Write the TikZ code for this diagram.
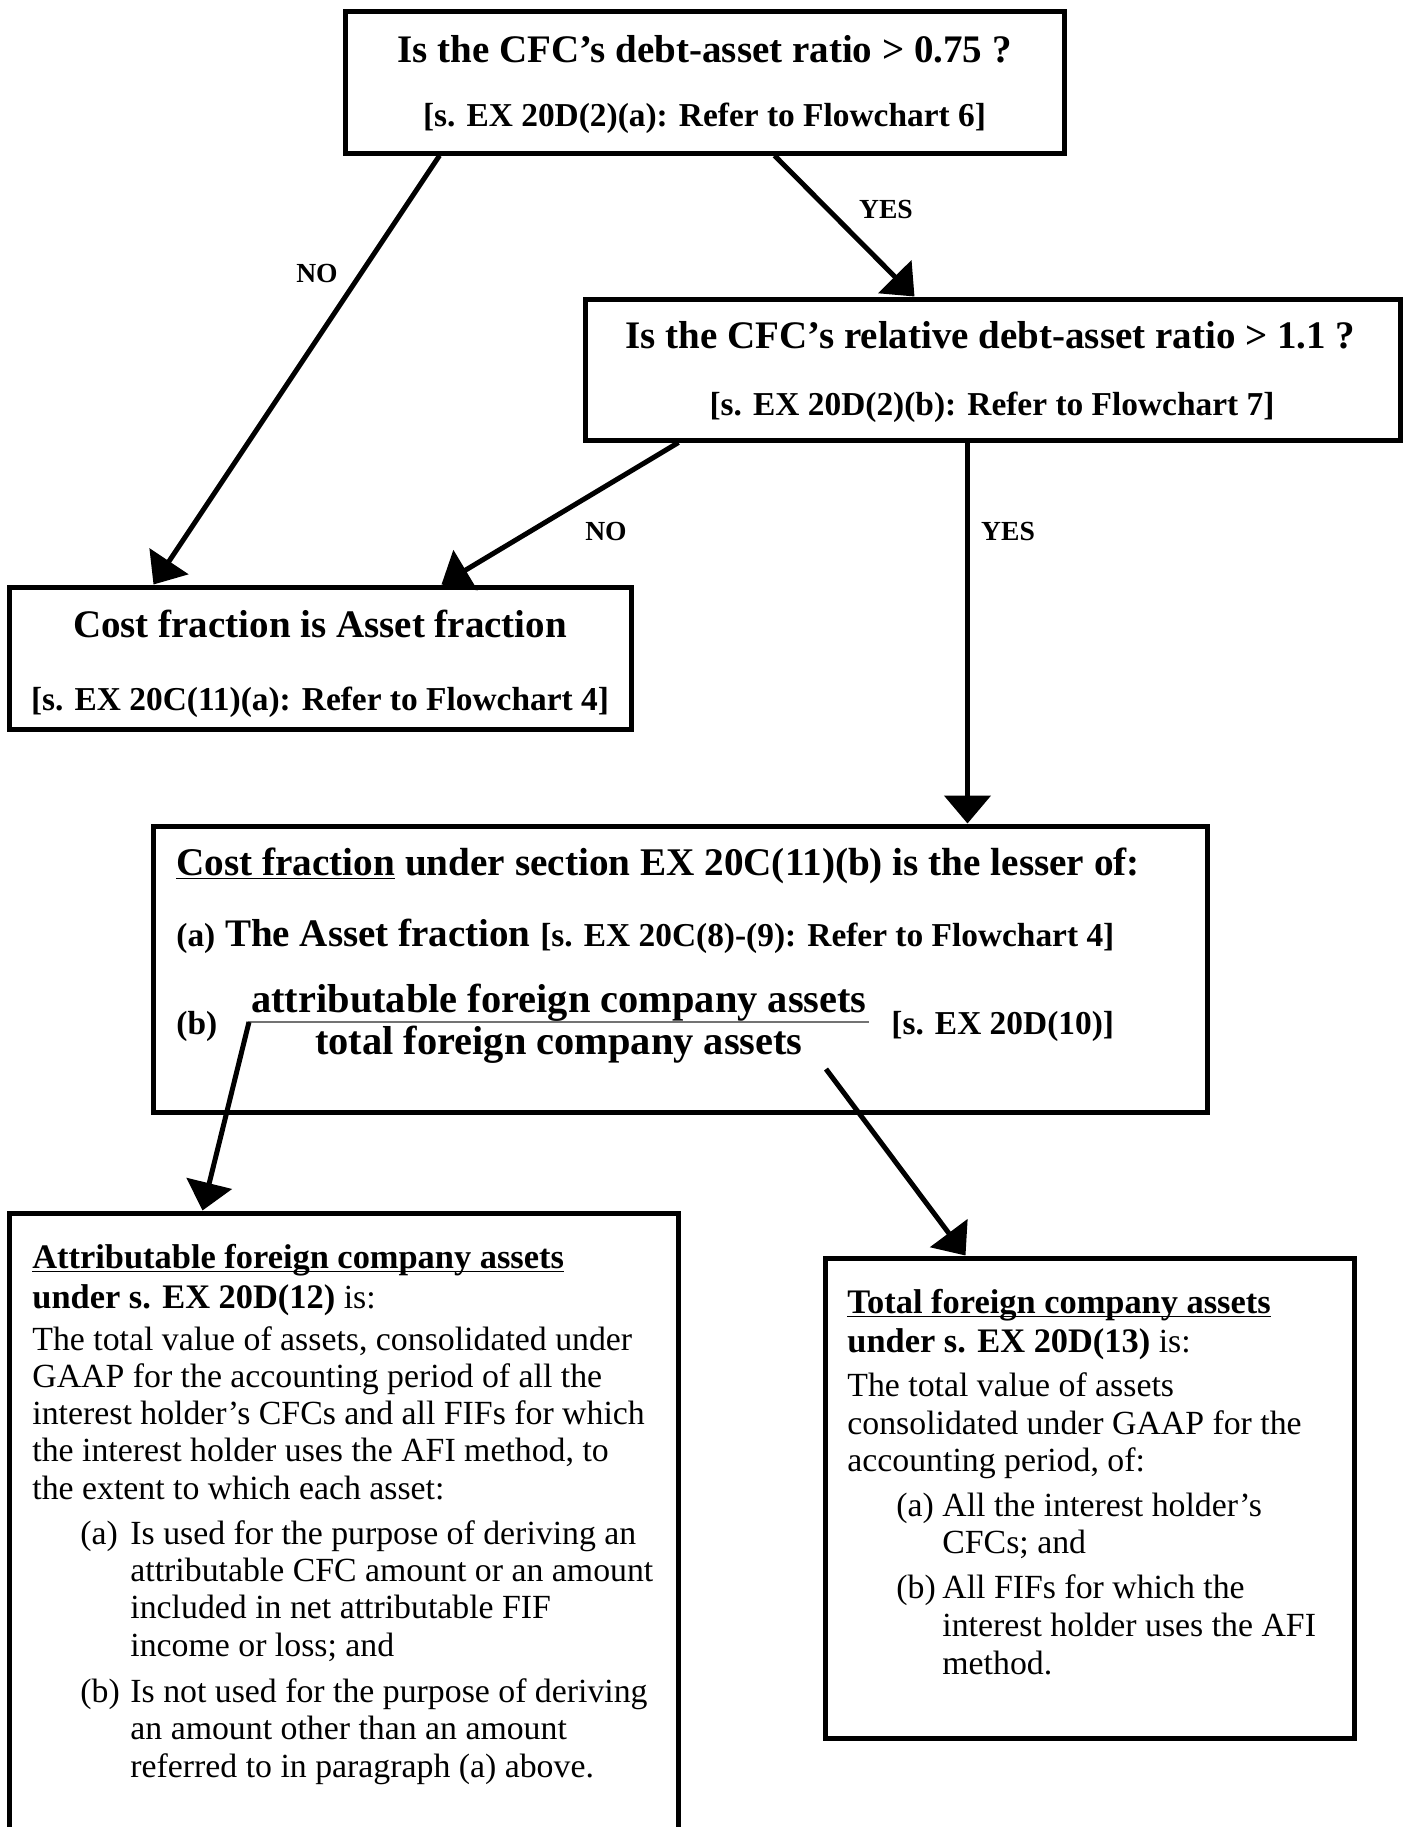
\documentclass[tikz,border=0pt]{standalone}
\usepackage{fontspec}
\setmainfont{Liberation Serif}
\usepackage{tikz}
\usetikzlibrary{positioning,arrows.meta,calc}

\newcommand{\qfont}{\bfseries\fontsize{19.5pt}{22pt}\selectfont}
\newcommand{\leadfont}{\bfseries\fontsize{19.6pt}{22pt}\selectfont}
\newcommand{\reffont}{\bfseries\fontsize{16.7pt}{19pt}\selectfont}
\newcommand{\fracfont}{\bfseries\fontsize{20.2pt}{23pt}\selectfont}
\newcommand{\yesnofont}{\bfseries\fontsize{13.8pt}{16pt}\selectfont}
\newcommand{\bodyfont}{\fontsize{16.9pt}{18.7pt}\selectfont}
\newcommand{\bodybold}{\bfseries\fontsize{17.2pt}{18.7pt}\selectfont}
\newcommand{\lineunder}[1]{\setbox0\hbox{#1}\rlap{\rule[-2.2pt]{\wd0}{0.8pt}}\box0\relax}

\begin{document}
\begin{tikzpicture}[x=0.5pt,y=-0.5pt,
  box/.style={draw=black,line width=2.5pt,rectangle,inner sep=0pt},
  arr/.style={draw=black,line width=2.5pt,-{Triangle[length=14pt,width=23pt]}},
  fracbar/.style={draw=black!55,line width=1pt},
  txt/.style={inner sep=0pt,anchor=base},
  ltxt/.style={inner sep=0pt,anchor=base west},
  lbl/.style={inner sep=0pt,anchor=base,font=\yesnofont}]
\useasboundingbox (0,0) rectangle (1406,1827);
% boxes
\node [box,minimum width=359.5pt,minimum height=71pt] (q1) at (704.5,82) {};
\node [box,minimum width=407.5pt,minimum height=70.5pt] (q2) at (992.5,369.5) {};
\node [box,minimum width=311pt,minimum height=71pt] (asset) at (320,658) {};
\node [box,minimum width=527pt,minimum height=143pt] (lesser) at (680,969) {};
\node [box,minimum width=334.5pt,minimum height=328.5pt] (attr) at (343.5,1541.5) {};
\node [box,minimum width=264.5pt,minimum height=240pt] (total) at (1089.5,1498) {};
% box texts
\node [txt,font=\qfont] (q1a) at (704.5,62) {Is the CFC’s debt-asset ratio > 0.75 ?};
\node [txt,font=\reffont] (q1b) at (704.5,126) {[s. EX 20D(2)(a): Refer to Flowchart 6]};
\node [txt,font=\qfont] (q2a) at (990.5,348) {Is the CFC’s relative debt-asset ratio > 1.1 ?};
\node [txt,font=\reffont] (q2b) at (992,415) {[s. EX 20D(2)(b): Refer to Flowchart 7]};
\node [txt,font=\qfont] (asseta) at (320,637) {Cost fraction is Asset fraction};
\node [txt,font=\reffont] (assetb) at (320,710) {[s. EX 20C(11)(a): Refer to Flowchart 4]};
\node [ltxt,font=\leadfont] (lesa) at (176,875) {\lineunder{Cost fraction} under section EX 20C(11)(b) is the lesser of:};
\node [ltxt,font=\qfont] (lesb) at (176,946) {{\reffont (a)} The Asset fraction {\reffont [s. EX 20C(8)-(9): Refer to Flowchart 4]}};
\node [ltxt,font=\reffont] (lesc) at (176,1034) {(b)};
\node [txt,font=\fracfont] (num) at (559,1012) {attributable foreign company assets};
\node [txt,font=\fracfont] (den) at (559,1054) {total foreign company assets};
\draw [fracbar] (248,1022) -- (869,1022);
\node [ltxt,font=\reffont] (lesd) at (891,1034) {[s. EX 20D(10)]};
% attributable assets
\node [ltxt,font=\bodybold] (a1) at (32,1268) {\lineunder{Attributable foreign company assets}};
\node [ltxt,font=\bodyfont] (a2) at (32,1308) {{\bodybold under s. EX 20D(12)} is:};
\node [ltxt,font=\bodyfont] (a3) at (32,1350) {The total value of assets, consolidated under};
\node [ltxt,font=\bodyfont] (a4) at (32,1387) {GAAP for the accounting period of all the};
\node [ltxt,font=\bodyfont] (a5) at (32,1424) {interest holder’s CFCs and all FIFs for which};
\node [ltxt,font=\bodyfont] (a6) at (32,1461) {the interest holder uses the AFI method, to};
\node [ltxt,font=\bodyfont] (a7) at (32,1499) {the extent to which each asset:};
\node [ltxt,font=\bodyfont] (a8) at (80,1544) {(a)};
\node [ltxt,font=\bodyfont] (a9) at (130,1544) {Is used for the purpose of deriving an};
\node [ltxt,font=\bodyfont] (a10) at (130,1581) {attributable CFC amount or an amount};
\node [ltxt,font=\bodyfont] (a11) at (130,1618) {included in net attributable FIF};
\node [ltxt,font=\bodyfont] (a12) at (130,1656) {income or loss; and};
\node [ltxt,font=\bodyfont] (a13) at (80,1702) {(b)};
\node [ltxt,font=\bodyfont] (a14) at (130,1702) {Is not used for the purpose of deriving};
\node [ltxt,font=\bodyfont] (a15) at (130,1739) {an amount other than an amount};
\node [ltxt,font=\bodyfont] (a16) at (130,1777) {referred to in paragraph (a) above.};
% total assets
\node [ltxt,font=\bodybold] (t1) at (847,1313) {\lineunder{Total foreign company assets}};
\node [ltxt,font=\bodyfont] (t2) at (847,1352) {{\bodybold under s. EX 20D(13)} is:};
\node [ltxt,font=\bodyfont] (t3) at (847,1396) {The total value of assets};
\node [ltxt,font=\bodyfont] (t4) at (847,1434) {consolidated under GAAP for the};
\node [ltxt,font=\bodyfont] (t5) at (847,1471) {accounting period, of:};
\node [ltxt,font=\bodyfont] (t6) at (896,1516) {(a)};
\node [ltxt,font=\bodyfont] (t7) at (942,1516) {All the interest holder’s};
\node [ltxt,font=\bodyfont] (t8) at (942,1553) {CFCs; and};
\node [ltxt,font=\bodyfont] (t9) at (896,1598) {(b)};
\node [ltxt,font=\bodyfont] (t10) at (942,1598) {All FIFs for which the};
\node [ltxt,font=\bodyfont] (t11) at (942,1636) {interest holder uses the AFI};
\node [ltxt,font=\bodyfont] (t12) at (942,1674) {method.};
% connectors
\coordinate (barleft) at (249,1022);
\coordinate (denright) at (826,1069);
\draw [arr] ($(q1.south west)+(97,0)$) -- ($(asset.north west)+(147,0)$);
\draw [arr] ($(q1.south west)+(432,0)$) -- ($(q2.north west)+(332,0)$);
\draw [arr] ($(q2.south west)+(96,0)$) -- ($(asset.north west)+(435,0)$);
\draw [arr] ($(q2.south west)+(385,0)$) -- ($(lesser.north west)+(817,0)$);
\draw [arr] (barleft) -- ($(attr.north west)+(196,0)$);
\draw [arr] (denright) -- ($(total.north west)+(143,0)$);
% labels
\node [lbl] (no1) at (317,282) {NO};
\node [lbl] (yes1) at (886,218) {YES};
\node [lbl] (no2) at (606,540) {NO};
\node [lbl] (yes2) at (1008,540) {YES};
\end{tikzpicture}
\end{document}
